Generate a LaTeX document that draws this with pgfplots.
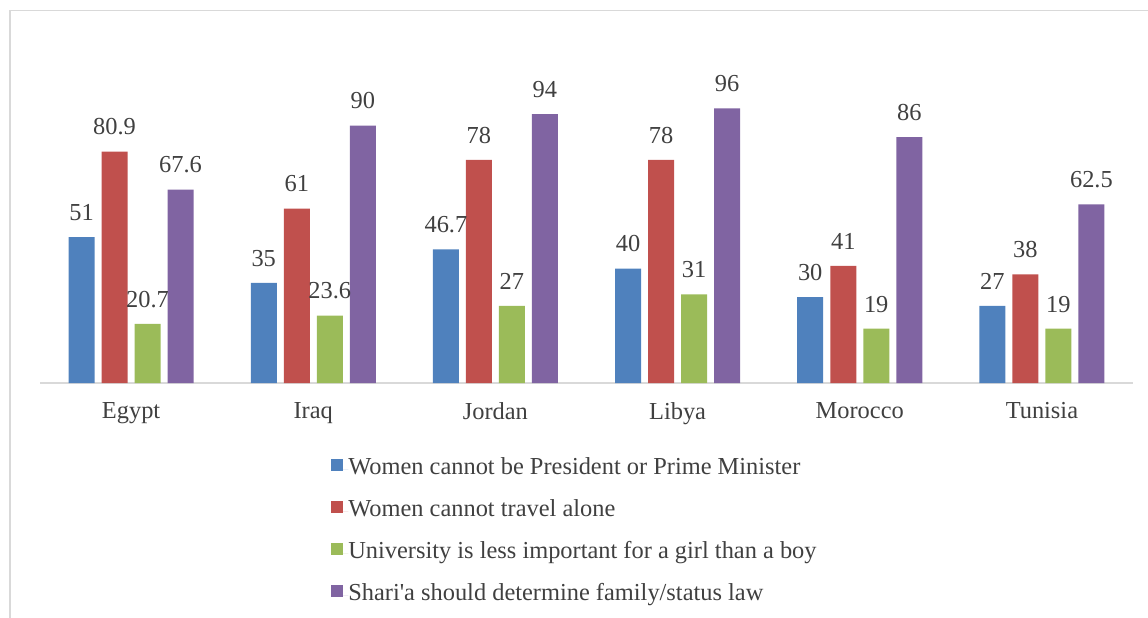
\documentclass[border=0pt]{standalone}
\usepackage{pgfplots}
\pgfplotsset{compat=1.18}
\usepackage{fontspec}
\setmainfont{Liberation Serif}
\definecolor{cblue}{HTML}{4F81BD}
\definecolor{cred}{HTML}{C0504D}
\definecolor{cgreen}{HTML}{9BBB59}
\definecolor{cpurple}{HTML}{8064A2}
\definecolor{txt}{HTML}{404040}
\definecolor{frame}{HTML}{D9D9D9}
\newcommand{\ff}{\fontsize{12.2pt}{14pt}\selectfont}
\begin{document}
\begin{tikzpicture}
\path[use as bounding box] (0,0) rectangle (574pt,-308.5pt);
\draw[frame, line width=0.8pt] (5pt,-310pt) -- (5pt,-5.3pt) -- (576pt,-5.3pt);
\begin{axis}[
  at={(20pt,-191.5pt)}, anchor=south west,
  scale only axis, width=546.5pt, height=143pt,
  xmin=-0.5, xmax=5.5, ymin=0, ymax=100,
  axis x line*=bottom, axis y line=none,
  x axis line style={frame, line width=0.75pt, -},
  ybar=3.5pt, bar width=13pt,
  xtick={0,1,2,3,4,5},
  xticklabels={Egypt,Iraq,Jordan,Libya,Morocco,Tunisia},
  major tick length=0pt,
  xticklabel style={font=\ff, text=txt, inner sep=0pt, yshift=-9.5pt},
  /pgf/number format/assume math mode=true,
  nodes near coords,
  every node near coord/.append style={font=\ff, text=txt, inner sep=0pt, anchor=south, yshift=8pt},
  clip=false,
  legend style={at={(0.2607,-0.25)}, anchor=north west, draw=none, fill=none,
    font=\ff, text=txt, row sep=10pt,
    nodes={inner sep=0pt, text height=8pt, text depth=3pt}},
  legend cell align=left,
  legend image code/.code={\fill[#1,draw=none] (0pt,-0.5pt) rectangle (6pt,5.5pt); \path (0pt,0pt) -- (8.5pt,0pt);},
]
\addplot[fill=cblue, draw=none] coordinates {(0,51) (1,35) (2,46.7) (3,40) (4,30) (5,27)};
\addplot[fill=cred, draw=none] coordinates {(0,80.9) (1,61) (2,78) (3,78) (4,41) (5,38)};
\addplot[fill=cgreen, draw=none] coordinates {(0,20.7) (1,23.6) (2,27) (3,31) (4,19) (5,19)};
\addplot[fill=cpurple, draw=none] coordinates {(0,67.6) (1,90) (2,94) (3,96) (4,86) (5,62.5)};
\legend{Women cannot be President or Prime Minister,Women cannot travel alone,University is less important for a girl than a boy,Shari\textquotesingle a should determine family/status law}
\end{axis}
\end{tikzpicture}
\end{document}
